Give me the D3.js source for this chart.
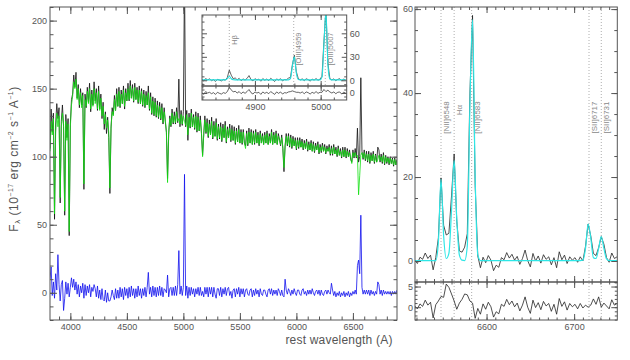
<!DOCTYPE html>
<html lang="en">
  <head>
    <meta charset="UTF-8" />
    <title>Spectrum fit</title>
    <script src="https://d3js.org/d3.v7.min.js"></script>
    <style>
      body { margin: 0; background: #fff; }
      svg { display: block; font-family: "Liberation Sans", Arial, sans-serif; }
      .axis text { font-size: 9px; fill: #555; }
      .axis line { stroke: #555; }
      .axis path { display: none; }
    </style>
  </head>
  <body>
    <div id="chart"></div>

    <script>
      // full spectrum, 10 A bins starting at 3820 A
      const fullWave = d3.range(3820, 6891, 10);
      const fullObs = [
        106,135,118,132,54,124,139,128,136,66,
        126,138,122,57,131,114,128,42,124,142,
        146,160,151,162,143,153,136,150,138,147,
        76,146,136,151,140,154,133,149,138,155,
        141,150,134,152,135,146,128,140,120,133,
        117,129,114,73,121,136,131,145,134,150,
        137,151,136,149,139,152,135,150,141,154,
        141,156,143,153,140,154,142,151,139,152,
        139,150,137,149,136,148,138,152,134,147,
        131,144,130,143,129,141,128,140,127,139,
        124,136,126,118,84,116,130,122,135,124,
        133,124,136,125,157,122,134,123,133,232,
        122,134,112,132,121,135,122,131,120,133,
        118,132,119,130,117,101,116,130,117,128,
        114,127,116,129,113,126,115,128,112,124,
        113,125,111,124,114,126,110,122,114,124,
        111,123,112,122,109,121,111,123,110,120,
        109,120,110,108,119,108,121,110,120,109,
        119,109,120,110,118,108,119,110,117,109,
        118,110,119,109,117,110,120,109,118,110,
        119,109,117,113,108,116,106,89,108,117,
        108,117,107,116,106,115,108,114,105,114,
        106,114,107,113,105,112,106,113,104,111,
        105,112,104,111,103,110,105,111,102,109,
        103,110,104,109,102,108,104,109,101,108,
        101,109,102,107,100,108,101,106,99,107,
        100,107,99,106,100,105,98,96,105,99,
        106,99,121,96,100,158,104,98,105,97,
        104,96,104,95,103,97,104,95,102,96,
        107,105,96,102,95,103,94,101,95,100,
        94,100,95,99,93,99,94,98
      ];
      const fullModel = [
        104,126,116,128,58,118,132,122,130,70,
        122,132,124,60,126,112,124,45,122,138,
        144,155,150,157,142,150,138,147,136,145,
        80,142,137,148,139,150,135,146,137,150,
        139,147,135,148,134,143,130,137,124,131,
        121,127,118,77,122,133,130,142,134,146,
        137,148,137,146,139,149,137,147,141,150,
        142,152,143,150,141,151,142,149,140,149,
        139,148,138,146,137,145,138,147,135,144,
        132,141,131,140,130,138,129,137,128,136,
        125,133,127,118,81,119,128,123,132,125,
        130,125,133,126,128,124,131,124,130,126,
        123,131,116,129,122,132,122,129,121,130,
        119,129,119,127,118,100,117,127,118,125,
        115,124,116,126,114,123,115,125,113,122,
        114,122,112,121,114,123,111,120,114,121,
        112,120,112,119,110,119,111,120,110,118,
        110,118,110,106,117,109,118,110,118,109,
        117,110,118,110,116,109,117,110,115,109,
        116,110,117,109,115,110,118,109,116,110,
        117,109,115,112,109,114,107,92,108,115,
        109,115,108,114,107,113,108,112,106,112,
        107,112,107,111,106,110,106,111,105,109,
        105,110,104,109,104,108,105,109,103,107,
        104,108,104,107,103,106,104,107,102,106,
        102,107,102,105,101,106,101,104,100,105,
        100,105,100,104,100,103,99,95,103,100,
        103,100,101,72,86,101,103,99,103,98,
        102,97,102,96,101,97,102,96,101,96,
        98,101,97,100,96,101,95,100,96,99,
        95,99,95,98,94,98,94,97
      ];
      const fullResid = [
        10,19,-2,8,-4,14,2,28,6,-6,
        6,9,-13,-4,8,-1,7,-3,4,11,
        4,10,2,8,-1,6,-3,5,0,7,
        -4,6,-2,5,0,6,-3,4,1,6,
        3,-3,5,-4,2,-5,3,-5,-6,2,
        -7,0,-6,-6,-3,2,-2,-5,3,-4,
        2,-4,4,-3,3,-5,4,-2,3,-4,
        4,-3,5,-2,3,-4,3,-3,5,-2,
        3,-4,3,-2,4,-3,4,15,-1,4,
        -3,5,-2,4,-3,4,-2,5,-2,4,
        -3,3,2,0,13,-3,3,4,-2,4,
        -2,5,-2,6,31,-1,5,-2,4,87,
        -2,5,-4,4,-2,4,-1,3,-3,3,
        -1,4,-2,4,-2,1,-3,4,-1,4,
        -3,4,-1,4,-3,4,-1,-4,3,3,
        -2,4,-3,3,-1,4,-2,3,4,-2,
        1,-4,2,3,-3,3,-1,4,-3,3,
        -1,3,-3,2,3,-1,-2,2,3,-3,
        2,-2,3,-1,2,-3,3,-1,-2,2,
        2,-1,-3,2,3,-1,3,-2,2,-1,
        2,-2,3,1,-2,2,-2,-3,10,2,
        -1,3,1,-2,2,-1,3,0,-2,2,
        2,-1,-2,2,3,-1,1,-2,2,-1,
        2,-1,3,0,-2,1,2,-1,2,-2,
        2,-1,-2,1,2,-1,2,0,-1,7,
        2,-2,1,-3,0,-2,1,-3,0,-2,
        1,-3,0,-2,1,-3,0,-2,1,-1,
        2,-1,20,24,14,57,4,-1,2,-1,
        2,-1,2,-2,2,-1,1,-2,1,-1,
        8,6,-1,2,-2,2,-1,1,-1,1,
        -1,1,-2,1,-1,1,-1,2
      ];

      // Hbeta / [OIII] inset, 3 A bins from 4819 A
      const insetWave = d3.range(4819, 5039, 3);
      const insetObs = [
        1.5,-1.0,2.2,0.5,1.8,-0.5,0.8,-1.5,1.2,0.3,
        -0.8,1.0,0.2,3.5,13,6.5,2.0,3.0,0.5,2.5,
        -0.5,1.8,0.2,2.4,6.0,1.0,-0.8,2.0,0.5,1.5,
        -1.2,2.2,0.0,1.6,-0.5,2.5,0.6,-1.5,1.8,0.3,
        2.0,-0.8,1.0,0.5,3.0,3.5,20,32,11,2.0,
        0.5,1.8,-0.5,2.0,0.8,-1.0,1.5,0.2,2.2,0.0,
        1.5,5.0,50,90,22,2.0,0.5,1.8,-0.5,1.2,
        2.0,-0.8,1.5,0.5
      ];
      const insetFit = [
        0.5,0.5,0.5,0.5,0.5,0.5,0.5,0.5,0.5,0.5,
        0.5,0.5,0.5,2.0,5.2,2.0,0.7,0.5,0.5,0.5,
        0.5,0.5,0.5,0.5,0.5,0.5,0.5,0.5,0.5,0.5,
        0.5,0.5,0.5,0.5,0.5,0.5,0.5,0.5,0.5,0.5,
        0.5,0.5,0.5,0.5,0.5,2.0,18,30,9,1.0,
        0.5,0.5,0.5,0.5,0.5,0.5,0.5,0.5,0.5,0.5,
        0.5,4.0,46,88,20,1.5,0.5,0.5,0.5,0.5,
        0.5,0.5,0.5,0.5
      ];
      const insetResid = [
        1,-2,2,0,1,-1,0.5,-2,1,-0.5,
        -1.5,0.5,-0.5,2,8,4.5,1.5,2.5,0,2,
        -1,1.5,-0.5,2,5,0.5,-1.5,1.5,0,1,
        -2,1.5,-0.5,1,-1,2,0,-2,1.5,-0.5,
        1.5,-1.5,0.5,0,1.5,2,3,2,1,1,
        0,1.5,-1,1.5,0.5,-1.5,1,-0.5,2,-0.5,
        1,1,5,2,4,1.5,0,1.5,-1,1,
        1.5,-1.5,1,0
      ];
      const insetLineWave = [4861, 4959, 5007];
      const insetLineName = ["Hβ", "[OIII]4959", "[OIII]5007"];

      // Halpha + [NII] + [SII] zoom, 3 A bins from 6518 A
      const haWave = d3.range(6518, 6750, 3);
      const haObs = [
        0.2,-0.6,0.9,0.4,1.9,0.6,1.4,-2.1,0.8,5.5,
        19.8,8.5,6.2,6.6,15.5,25.5,9.5,2.4,2.1,3.3,
        6.5,40,58.5,18,1.2,-1.6,0.9,-0.4,1.3,0.2,
        -2.3,-1.0,-1.5,0.8,0.3,2.0,0.7,1.6,0.2,1.1,
        -0.8,0.6,2.6,0.1,-1.4,1.8,0.0,1.2,-0.5,1.5,
        0.4,1.0,-0.9,0.8,-1.6,2.2,0.3,1.4,-0.6,1.0,
        0.2,0.8,-0.3,1.0,0.0,3.5,8.8,6.0,1.8,1.3,
        3.2,5.8,4.0,0.8,-0.3,1.9,0.6,1.0
      ];
      const haFit = [
        0.1,0.1,0.1,0.1,0.1,0.1,0.1,0.1,0.1,4.5,
        19.5,6,0.6,1.8,12,24,10,1.4,0.2,0.1,
        3.5,37,57.5,20,1.5,0.1,0.1,0.1,0.1,0.1,
        0.1,0.1,0.1,0.1,0.1,0.1,0.1,0.1,0.1,0.1,
        0.1,0.1,0.1,0.1,0.1,0.1,0.1,0.1,0.1,0.1,
        0.1,0.1,0.1,0.1,0.1,0.1,0.1,0.1,0.1,0.1,
        0.1,0.1,0.1,0.1,0.2,3,8.8,5.5,0.8,0.6,
        3,5.8,3,0.5,0.1,0.1,0.1,0.1
      ];
      const haResid = [
        0.3,-0.4,0.8,0.2,1.7,0.5,1.2,-2.6,0.6,1.5,
        2.6,2.4,5.6,4.8,3.2,1.5,-0.5,1.0,1.9,3.2,
        3.0,1.5,1.0,-2.7,-0.3,-1.7,0.8,-0.5,1.2,0.1,
        -2.4,-1.1,-1.6,0.7,0.2,1.9,0.6,1.5,0.1,1.0,
        -0.9,0.5,2.5,0.0,-1.5,1.7,-0.1,1.1,-0.6,1.4,
        0.3,0.9,-1.0,0.7,-1.7,2.1,0.2,1.3,-0.7,0.9,
        0.1,0.7,-0.4,0.9,-0.2,0.5,0.0,0.5,2.0,0.7,
        2.5,0.0,1.0,0.3,-0.4,1.8,0.5,0.9
      ];
      const haLineWave = [6548, 6563, 6583, 6717, 6731];
      const haLineName = ["[NII]6548", "Hα", "[NII]6583", "[SII]6717", "[SII]6731"];

      const svg = d3.select("#chart").append("svg").attr("width", 630).attr("height", 360);
      const defs = svg.append("defs");
      const fmt = d3.format("d");

      function clip(id, x, y) {
        const [x0, x1] = x.range();
        const [yb, yt] = y.range();
        defs.append("clipPath").attr("id", id).append("rect")
          .attr("x", x0).attr("y", yt).attr("width", x1 - x0).attr("height", yb - yt);
        return "url(#" + id + ")";
      }

      function drawLine(x, y, xs, ys, color, width, clipUrl, curve) {
        const line = d3.line()
          .x((d, i) => x(xs[i]))
          .y((d) => y(d))
          .curve(curve || d3.curveLinear);
        svg.append("path").datum(ys)
          .attr("d", line)
          .attr("fill", "none")
          .attr("stroke", color)
          .attr("stroke-width", width)
          .attr("stroke-linejoin", "round")
          .attr("clip-path", clipUrl);
      }

      // box with inward ticks on all four sides (IDL style)
      function frame(x, y, o) {
        const [x0, x1] = x.range();
        const [yb, yt] = y.range();
        const big = o.big || 6, small = o.small || 3;
        const g = svg.append("g").attr("class", "axis");
        [[d3.axisBottom, yb, o.xLabels], [d3.axisTop, yt, false]].forEach(([ax, yy, lab]) => {
          g.append("g").attr("transform", "translate(0," + yy + ")")
            .call(ax(x).tickValues(o.xMajor).tickSize(-big).tickSizeOuter(0)
              .tickPadding(4).tickFormat(lab ? fmt : ""));
          g.append("g").attr("transform", "translate(0," + yy + ")")
            .call(ax(x).tickValues(o.xMinor).tickSize(-small).tickSizeOuter(0).tickFormat(""));
        });
        [[d3.axisLeft, x0, o.yLabels === "left"], [d3.axisRight, x1, o.yLabels === "right"]].forEach(([ax, xx, lab]) => {
          g.append("g").attr("transform", "translate(" + xx + ",0)")
            .call(ax(y).tickValues(o.yMajor).tickSize(-big).tickSizeOuter(0)
              .tickPadding(o.yPad || 3).tickFormat(lab ? fmt : ""));
          g.append("g").attr("transform", "translate(" + xx + ",0)")
            .call(ax(y).tickValues(o.yMinor).tickSize(-small).tickSizeOuter(0).tickFormat(""));
        });
        g.append("rect")
          .attr("x", x0).attr("y", yt)
          .attr("width", x1 - x0).attr("height", yb - yt)
          .attr("fill", "none").attr("stroke", "#555");
      }

      function lineMarks(x, y0, y1, waves) {
        svg.append("g").selectAll("line").data(waves).enter().append("line")
          .attr("x1", (d) => x(d)).attr("x2", (d) => x(d))
          .attr("y1", y0).attr("y2", y1)
          .attr("stroke", "#999").attr("stroke-width", 0.8)
          .attr("stroke-dasharray", "1,2");
      }

      function lineNames(x, waves, names, yMid, yShort, size) {
        svg.append("g").selectAll("text").data(names).enter().append("text")
          .attr("transform", (d, i) =>
            "translate(" + (x(waves[i]) + size) + "," + (d.length < 4 ? yShort : yMid) + ") rotate(-90)")
          .attr("text-anchor", "middle")
          .attr("font-size", size + "px")
          .attr("fill", "#888")
          .text((d) => d);
      }

      // ---- main panel ----
      const xMain = d3.scaleLinear().domain([3820, 6890]).range([50, 397]);
      const yMain = d3.scaleLinear().domain([-20, 210]).range([320, 7]);
      const clipMain = clip("clip-main", xMain, yMain);
      drawLine(xMain, yMain, fullWave, fullObs, "#111", 0.8, clipMain);
      drawLine(xMain, yMain, fullWave, fullModel, "#10e010", 0.8, clipMain);
      drawLine(xMain, yMain, fullWave, fullResid, "#1010ee", 0.8, clipMain);
      frame(xMain, yMain, {
        xMajor: [4000, 4500, 5000, 5500, 6000, 6500],
        xMinor: d3.range(3900, 6900, 100),
        yMajor: [0, 50, 100, 150, 200],
        yMinor: d3.range(-20, 211, 10),
        xLabels: true, yLabels: "left", big: 7, small: 3.5
      });

      // ---- inset ----
      const xIn = d3.scaleLinear().domain([4819.5, 5039.6]).range([202, 346.7]);
      const yIn = d3.scaleLinear().domain([-7.3, 83.4]).range([86, 15]);
      const yInR = d3.scaleLinear().domain([-10, 10]).range([100, 86]);
      svg.append("rect").attr("x", 202).attr("y", 15).attr("width", 144.7).attr("height", 85).attr("fill", "#fff");
      lineMarks(xIn, 15, 86, insetLineWave);
      lineNames(xIn, insetLineWave, insetLineName, 49, 40, 7.5);
      const clipIn = clip("clip-in", xIn, yIn);
      const clipInR = clip("clip-in-r", xIn, yInR);
      drawLine(xIn, yIn, insetWave, insetObs, "#222", 0.7, clipIn);
      drawLine(xIn, yIn, insetWave, insetFit, "#22dede", 1.1, clipIn, d3.curveMonotoneX);
      drawLine(xIn, yInR, insetWave, insetResid, "#222", 0.7, clipInR);
      frame(xIn, yIn, {
        xMajor: [4900, 5000], xMinor: d3.range(4820, 5040, 20),
        yMajor: [0, 30, 60], yMinor: d3.range(-5, 84, 10),
        xLabels: false, yLabels: "right", yPad: 3, big: 5, small: 2.5
      });
      frame(xIn, yInR, {
        xMajor: [4900, 5000], xMinor: d3.range(4820, 5040, 20),
        yMajor: [0], yMinor: [-5, 5],
        xLabels: true, yLabels: "right", yPad: 3, big: 5, small: 2.5
      });

      // ---- Halpha panel ----
      const xHa = d3.scaleLinear().domain([6518.3, 6749.3]).range([415, 617.3]);
      const yHa = d3.scaleLinear().domain([-5, 60.5]).range([282, 7]);
      const yHaR = d3.scaleLinear().domain([-3.1, 6.1]).range([320, 282]);
      lineMarks(xHa, 7, 320, haLineWave);
      lineNames(xHa, haLineWave, haLineName, 117.5, 110, 8);
      const clipHa = clip("clip-ha", xHa, yHa);
      const clipHaR = clip("clip-ha-r", xHa, yHaR);
      drawLine(xHa, yHa, haWave, haObs, "#222", 0.8, clipHa);
      drawLine(xHa, yHa, haWave, haFit, "#2ee6e6", 1.2, clipHa, d3.curveMonotoneX);
      drawLine(xHa, yHaR, haWave, haResid, "#222", 0.8, clipHaR);
      frame(xHa, yHa, {
        xMajor: [6600, 6700], xMinor: d3.range(6520, 6750, 10),
        yMajor: [0, 20, 40, 60], yMinor: d3.range(-5, 61, 5),
        xLabels: false, yLabels: "left", yPad: 2
      });
      frame(xHa, yHaR, {
        xMajor: [6600, 6700], xMinor: d3.range(6520, 6750, 10),
        yMajor: [0, 5], yMinor: d3.range(-3, 7, 1),
        xLabels: true, yLabels: "left", yPad: 2, small: 2.5
      });

      // ---- axis titles ----
      svg.append("text")
        .attr("x", 339).attr("y", 344)
        .attr("text-anchor", "middle")
        .attr("font-size", "12px")
        .attr("letter-spacing", "0.2px")
        .attr("fill", "#555")
        .text("rest wavelength (A)");

      const yTitle = svg.append("text")
        .attr("transform", "translate(18,159) rotate(-90)")
        .attr("text-anchor", "middle")
        .attr("font-size", "12px")
        .attr("letter-spacing", "0.5px")
        .attr("fill", "#555");
      yTitle.append("tspan").text("F");
      yTitle.append("tspan").attr("font-size", "8px").attr("dy", 2).text("λ");
      yTitle.append("tspan").attr("dy", -2).text(" (10");
      yTitle.append("tspan").attr("font-size", "7px").attr("dy", -5).text("−17");
      yTitle.append("tspan").attr("dy", 5).text(" erg cm");
      yTitle.append("tspan").attr("font-size", "7px").attr("dy", -5).text("−2");
      yTitle.append("tspan").attr("dy", 5).text(" s");
      yTitle.append("tspan").attr("font-size", "7px").attr("dy", -5).text("−1");
      yTitle.append("tspan").attr("dy", 5).text(" A");
      yTitle.append("tspan").attr("font-size", "7px").attr("dy", -5).text("−1");
      yTitle.append("tspan").attr("dy", 5).text(")");
    </script>
  </body>
</html>
